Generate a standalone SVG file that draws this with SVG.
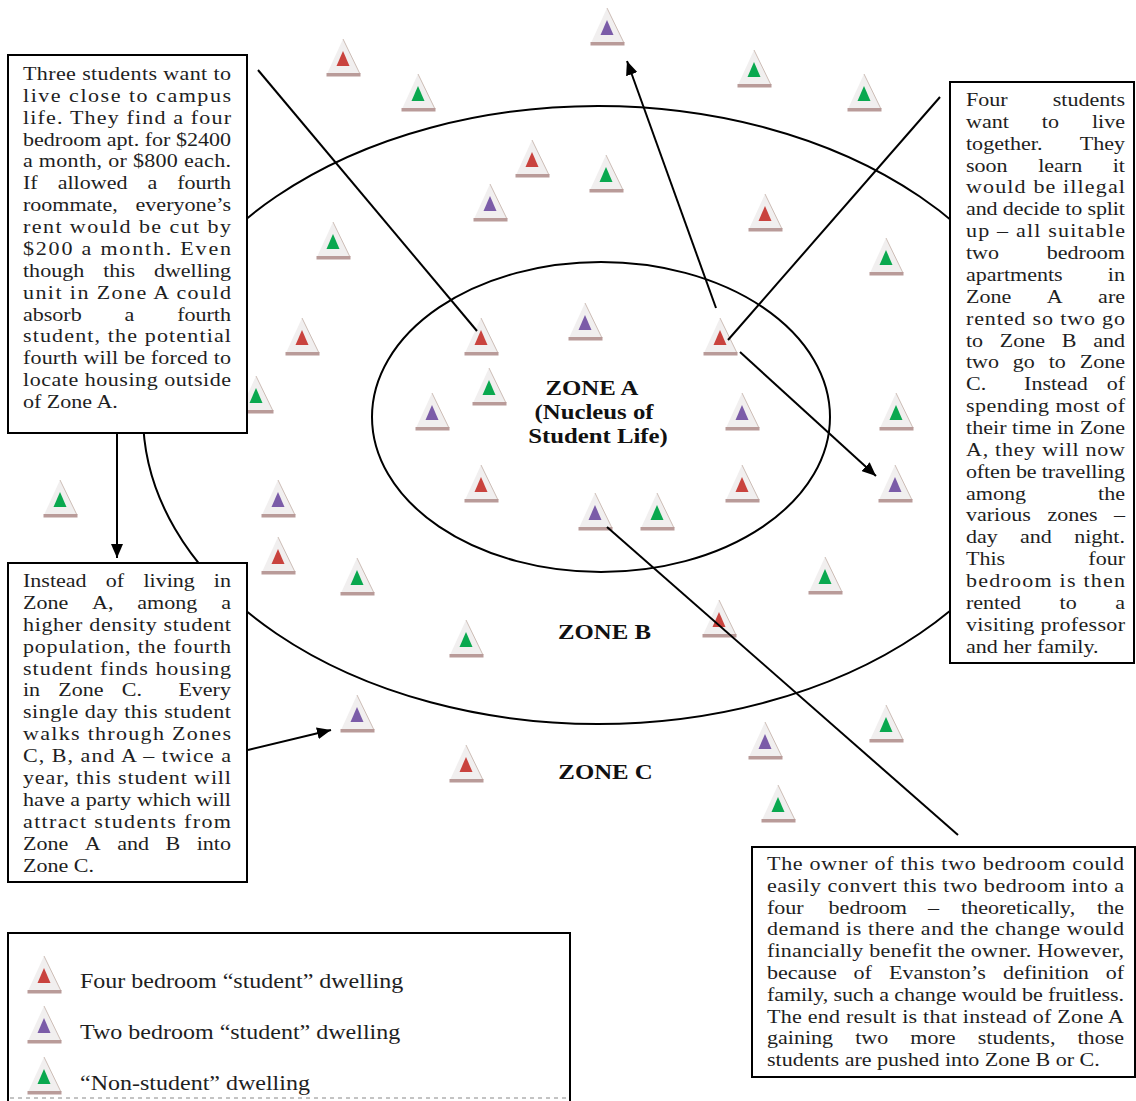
<svg xmlns="http://www.w3.org/2000/svg" width="1136" height="1101" viewBox="0 0 1136 1101">
<style>
.t{font-family:"Liberation Serif","Times New Roman",serif;font-size:19px;fill:#1e1e1e}
.lg{font-family:"Liberation Serif","Times New Roman",serif;font-size:20.7px;fill:#1e1e1e}
.z{font-family:"Liberation Serif","Times New Roman",serif;font-size:21px;font-weight:bold;fill:#111;text-anchor:middle}
.e{text-anchor:end}
.m{text-anchor:middle}
.box{fill:#fff;stroke:#000;stroke-width:2}
.ln{stroke:#000;stroke-width:2;fill:none}
.ell{stroke:#000;stroke-width:2;fill:none}
.ob{fill:#f1efef}
.oe{stroke:#cdbdb6;stroke-width:1;fill:none}
.bar{fill:#b99b99}
.red{fill:#c9433e}
.pur{fill:#7b5ca8}
.grn{fill:#0aa84f}
</style>
<defs>
<marker id="ah" viewBox="0 0 14 12" refX="14" refY="6" markerWidth="14" markerHeight="12" markerUnits="userSpaceOnUse" orient="auto">
<path d="M0,0 L14,6 L0,12 z" fill="#000"/>
</marker>
<g id="ib">
<polygon class="ob" points="0,0 -16,35 17,35"/>
<line class="oe" x1="0" y1="0" x2="17" y2="35"/>
<rect class="bar" x="-16.5" y="34" width="34" height="3.5"/>
</g>
<g id="ir"><use href="#ib"/><polygon class="red" points="0,12 -6.5,27 6.5,27"/></g>
<g id="ip"><use href="#ib"/><polygon class="pur" points="0,12 -6.5,27 6.5,27"/></g>
<g id="ig"><use href="#ib"/><polygon class="grn" points="0,12 -6.5,27 6.5,27"/></g>
</defs>
<rect width="1136" height="1101" fill="#fff"/>

<g id="zones">
<ellipse id="zone-b-boundary" class="ell" cx="598" cy="415" rx="455" ry="309"/>
<ellipse id="zone-a-boundary" class="ell" cx="601" cy="417" rx="229" ry="155"/>
<g id="label-zone-a">
<g transform="translate(592,0) scale(1.18,1)"><text class="z" x="0" y="395">ZONE A</text></g>
<g transform="translate(594,0) scale(1.18,1)"><text class="z" x="0" y="419">(Nucleus of</text></g>
<g transform="translate(598,0) scale(1.18,1)"><text class="z" x="0" y="443">Student Life)</text></g>
</g>
<g id="label-zone-b" transform="translate(604.5,0) scale(1.18,1)"><text class="z" x="0" y="639">ZONE B</text></g>
<g id="label-zone-c" transform="translate(605.5,0) scale(1.18,1)"><text class="z" x="0" y="779">ZONE C</text></g>
</g>

<g id="dwellings">
<g id="d01"><use href="#ir" x="343" y="39"/></g>
<g id="d02"><use href="#ig" x="418" y="74"/></g>
<g id="d03"><use href="#ip" x="607" y="8"/></g>
<g id="d04"><use href="#ig" x="754" y="50"/></g>
<g id="d05"><use href="#ig" x="864" y="74"/></g>
<g id="d06"><use href="#ir" x="532" y="140"/></g>
<g id="d07"><use href="#ig" x="606" y="155"/></g>
<g id="d08"><use href="#ip" x="490" y="184"/></g>
<g id="d09"><use href="#ir" x="765" y="194"/></g>
<g id="d10"><use href="#ig" x="333" y="222"/></g>
<g id="d11"><use href="#ig" x="886" y="238"/></g>
<g id="d12"><use href="#ir" x="302" y="318"/></g>
<g id="d13"><use href="#ir" x="481" y="318"/></g>
<g id="d14"><use href="#ip" x="585" y="303"/></g>
<g id="d15"><use href="#ir" x="720" y="318"/></g>
<g id="d16"><use href="#ig" x="489" y="368"/></g>
<g id="d17"><use href="#ig" x="256" y="376"/></g>
<g id="d18"><use href="#ip" x="432" y="393"/></g>
<g id="d19"><use href="#ip" x="742" y="393"/></g>
<g id="d20"><use href="#ig" x="896" y="393"/></g>
<g id="d21"><use href="#ig" x="60" y="480"/></g>
<g id="d22"><use href="#ip" x="278" y="480"/></g>
<g id="d23"><use href="#ir" x="481" y="465"/></g>
<g id="d24"><use href="#ir" x="742" y="465"/></g>
<g id="d25"><use href="#ip" x="895" y="465"/></g>
<g id="d26"><use href="#ip" x="595" y="493"/></g>
<g id="d27"><use href="#ig" x="657" y="493"/></g>
<g id="d28"><use href="#ir" x="278" y="537"/></g>
<g id="d29"><use href="#ig" x="357" y="558"/></g>
<g id="d30"><use href="#ig" x="825" y="557"/></g>
<g id="d31"><use href="#ir" x="719" y="600"/></g>
<g id="d32"><use href="#ig" x="466" y="620"/></g>
<g id="d33"><use href="#ip" x="357" y="695"/></g>
<g id="d34"><use href="#ig" x="886" y="705"/></g>
<g id="d35"><use href="#ip" x="765" y="722"/></g>
<g id="d36"><use href="#ir" x="466" y="745"/></g>
<g id="d37"><use href="#ig" x="778" y="785"/></g>
</g>

<g id="connectors">
<line class="ln" x1="258" y1="70" x2="477" y2="331"/>
<line class="ln" x1="716" y1="308" x2="627" y2="61" marker-end="url(#ah)"/>
<line class="ln" x1="940" y1="97" x2="728" y2="340"/>
<line class="ln" x1="740" y1="352" x2="876" y2="476" marker-end="url(#ah)"/>
<line class="ln" x1="607" y1="527" x2="958" y2="835"/>
<line class="ln" x1="117" y1="433" x2="117" y2="558" marker-end="url(#ah)"/>
<line class="ln" x1="248" y1="750" x2="331" y2="730" marker-end="url(#ah)"/>
</g>

<g id="note-three-students">
<rect class="box" x="8" y="55" width="239" height="378"/>
<g class="t" transform="translate(23,0) scale(1.16,1)">
<text y="80" textLength="179.31" lengthAdjust="spacing">Three students want to</text>
<text y="101.9" textLength="179.31" lengthAdjust="spacing">live close to campus</text>
<text y="123.7" textLength="179.31" lengthAdjust="spacing">life.  They find a four</text>
<text y="145.6" textLength="179.31" lengthAdjust="spacing">bedroom apt. for $2400</text>
<text y="167.5" textLength="179.31" lengthAdjust="spacing">a month, or $800 each.</text>
<text y="189.4">If</text><text class="m" x="60" y="189.4">allowed</text><text class="m" x="111.47" y="189.4">a</text><text class="e" x="179.31" y="189.4">fourth</text>
<text y="211.2">roommate,</text><text class="e" x="179.31" y="211.2">everyone’s</text>
<text y="233.1" textLength="179.31" lengthAdjust="spacing">rent would be cut by</text>
<text y="255" textLength="179.31" lengthAdjust="spacing">$200 a month.  Even</text>
<text y="276.8">though</text><text class="m" x="82.84" y="276.8">this</text><text class="e" x="179.31" y="276.8">dwelling</text>
<text y="298.7" textLength="179.31" lengthAdjust="spacing">unit in Zone A could</text>
<text y="320.6">absorb</text><text class="m" x="91.81" y="320.6">a</text><text class="e" x="179.31" y="320.6">fourth</text>
<text y="342.4" textLength="179.31" lengthAdjust="spacing">student, the potential</text>
<text y="364.3" textLength="179.31" lengthAdjust="spacing">fourth will be forced to</text>
<text y="386.2" textLength="179.31" lengthAdjust="spacing">locate housing outside</text>
<text y="408">of Zone A.</text>
</g>
</g>

<g id="note-four-students">
<rect class="box" x="950" y="82" width="184" height="581"/>
<g class="t" transform="translate(966,0) scale(1.16,1)">
<text y="106">Four</text><text class="e" x="137.07" y="106">students</text>
<text y="127.9">want</text><text class="m" x="72.76" y="127.9">to</text><text class="e" x="137.07" y="127.9">live</text>
<text y="149.7">together.</text><text class="e" x="137.07" y="149.7">They</text>
<text y="171.6">soon</text><text class="m" x="81.21" y="171.6">learn</text><text class="e" x="137.07" y="171.6">it</text>
<text y="193.5" textLength="137.07" lengthAdjust="spacing">would be illegal</text>
<text y="215.4" textLength="137.07" lengthAdjust="spacing">and decide to split</text>
<text y="237.2" textLength="137.07" lengthAdjust="spacing">up – all suitable</text>
<text y="259.1">two</text><text class="e" x="137.07" y="259.1">bedroom</text>
<text y="281">apartments</text><text class="e" x="137.07" y="281">in</text>
<text y="302.8">Zone</text><text class="m" x="76.47" y="302.8">A</text><text class="e" x="137.07" y="302.8">are</text>
<text y="324.7" textLength="137.07" lengthAdjust="spacing">rented so two go</text>
<text y="346.6">to</text><text class="m" x="48.71" y="346.6">Zone</text><text class="m" x="88.97" y="346.6">B</text><text class="e" x="137.07" y="346.6">and</text>
<text y="368.4">two</text><text class="m" x="49.83" y="368.4">go</text><text class="m" x="78.62" y="368.4">to</text><text class="e" x="137.07" y="368.4">Zone</text>
<text y="390.3">C.</text><text class="m" x="77.5" y="390.3">Instead</text><text class="e" x="137.07" y="390.3">of</text>
<text y="412.2" textLength="137.07" lengthAdjust="spacing">spending most of</text>
<text y="434.1" textLength="137.07" lengthAdjust="spacing">their time in Zone</text>
<text y="455.9" textLength="137.07" lengthAdjust="spacing">A, they will now</text>
<text y="477.8" textLength="137.07" lengthAdjust="spacing">often be travelling</text>
<text y="499.7">among</text><text class="e" x="137.07" y="499.7">the</text>
<text y="521.5">various</text><text class="m" x="91.81" y="521.5">zones</text><text class="e" x="137.07" y="521.5">–</text>
<text y="543.4">day</text><text class="m" x="60.34" y="543.4">and</text><text class="e" x="137.07" y="543.4">night.</text>
<text y="565.3">This</text><text class="e" x="137.07" y="565.3">four</text>
<text y="587.1" textLength="137.07" lengthAdjust="spacing">bedroom is then</text>
<text y="609">rented</text><text class="m" x="88.1" y="609">to</text><text class="e" x="137.07" y="609">a</text>
<text y="630.9" textLength="137.07" lengthAdjust="spacing">visiting professor</text>
<text y="652.8">and her family.</text>
</g>
</g>

<g id="note-fourth-student">
<rect class="box" x="8" y="563" width="239" height="319"/>
<g class="t" transform="translate(23,0) scale(1.16,1)">
<text y="587">Instead</text><text class="m" x="79.31" y="587">of</text><text class="m" x="125.95" y="587">living</text><text class="e" x="179.31" y="587">in</text>
<text y="608.9">Zone</text><text class="m" x="68.79" y="608.9">A,</text><text class="m" x="124.4" y="608.9">among</text><text class="e" x="179.31" y="608.9">a</text>
<text y="630.8" textLength="179.31" lengthAdjust="spacing">higher density student</text>
<text y="652.7" textLength="179.31" lengthAdjust="spacing">population, the fourth</text>
<text y="674.6" textLength="179.31" lengthAdjust="spacing">student finds housing</text>
<text y="696.5">in</text><text class="m" x="49.96" y="696.5">Zone</text><text class="m" x="93.88" y="696.5">C.</text><text class="e" x="179.31" y="696.5">Every</text>
<text y="718.4" textLength="179.31" lengthAdjust="spacing">single day this student</text>
<text y="740.3" textLength="179.31" lengthAdjust="spacing">walks through Zones</text>
<text y="762.2" textLength="179.31" lengthAdjust="spacing">C, B, and A – twice a</text>
<text y="784.1" textLength="179.31" lengthAdjust="spacing">year, this student will</text>
<text y="806" textLength="179.31" lengthAdjust="spacing">have a party which will</text>
<text y="827.9" textLength="179.31" lengthAdjust="spacing">attract students from</text>
<text y="849.8">Zone</text><text class="m" x="60.13" y="849.8">A</text><text class="m" x="94.91" y="849.8">and</text><text class="m" x="129.18" y="849.8">B</text><text class="e" x="179.31" y="849.8">into</text>
<text y="871.7">Zone C.</text>
</g>
</g>

<g id="note-owner">
<rect class="box" x="752" y="847" width="383" height="230"/>
<g class="t" transform="translate(767,0) scale(1.16,1)">
<text y="870" textLength="307.76" lengthAdjust="spacing">The owner of this two bedroom could</text>
<text y="891.8" textLength="307.76" lengthAdjust="spacing">easily convert this two bedroom into a</text>
<text y="913.6">four</text><text class="m" x="86.85" y="913.6">bedroom</text><text class="m" x="143.62" y="913.6">–</text><text class="m" x="216.47" y="913.6">theoretically,</text><text class="e" x="307.76" y="913.6">the</text>
<text y="935.4" textLength="307.76" lengthAdjust="spacing">demand is there and the change would</text>
<text y="957.2" textLength="307.76" lengthAdjust="spacing">financially benefit the owner.  However,</text>
<text y="979">because</text><text class="m" x="82.41" y="979">of</text><text class="m" x="146.94" y="979">Evanston’s</text><text class="m" x="240.47" y="979">definition</text><text class="e" x="307.76" y="979">of</text>
<text y="1000.8" textLength="307.76" lengthAdjust="spacing">family, such a change would be fruitless.</text>
<text y="1022.6" textLength="307.76" lengthAdjust="spacing">The end result is that instead of Zone A</text>
<text y="1044.4">gaining</text><text class="m" x="90.26" y="1044.4">two</text><text class="m" x="143.06" y="1044.4">more</text><text class="m" x="215.13" y="1044.4">students,</text><text class="e" x="307.76" y="1044.4">those</text>
<text y="1066.2">students are pushed into Zone B or C.</text>
</g>
</g>

<g id="legend">
<rect class="box" x="8" y="933" width="562" height="180"/>
<line x1="10" y1="1098" x2="568" y2="1098" stroke="#888" stroke-width="1" stroke-dasharray="4,4"/>
<g id="legend-four-bedroom">
<use href="#ir" x="44" y="956"/>
<g class="lg" transform="translate(80,0) scale(1.16,1)"><text x="0" y="988">Four bedroom “student” dwelling</text></g>
</g>
<g id="legend-two-bedroom">
<use href="#ip" x="44" y="1006"/>
<g class="lg" transform="translate(80,0) scale(1.16,1)"><text x="0" y="1039">Two bedroom “student” dwelling</text></g>
</g>
<g id="legend-non-student">
<use href="#ig" x="44" y="1057"/>
<g class="lg" transform="translate(80,0) scale(1.16,1)"><text x="0" y="1090">“Non-student” dwelling</text></g>
</g>
</g>
</svg>
